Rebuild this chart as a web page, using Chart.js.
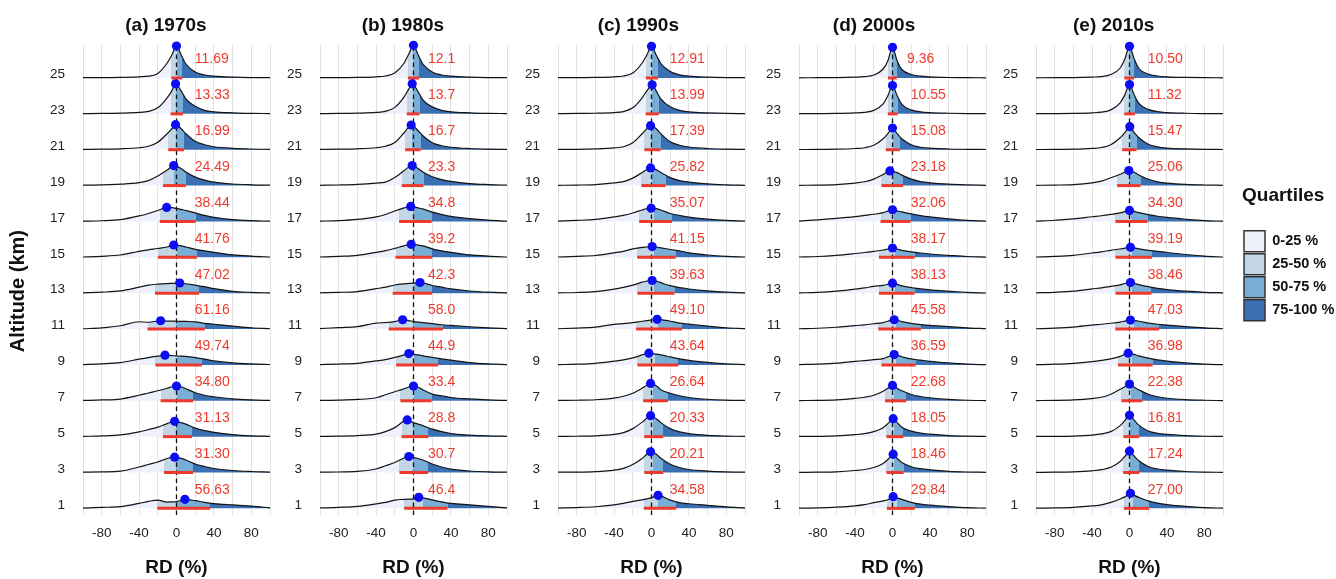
<!DOCTYPE html>
<html>
<head>
<meta charset="utf-8">
<title>RD ridgelines by decade</title>
<script src="https://cdn.jsdelivr.net/npm/chart.js@4.4.1/dist/chart.umd.min.js"></script>
<style>
  html, body { margin: 0; padding: 0; background: #fff; }
  #stage { position: relative; width: 1336px; height: 579px; overflow: hidden; }
  #stage canvas { position: absolute; top: 0; }
</style>
</head>
<body>
<div id="stage"></div>
<script>
/* === RD ridgelines, one panel per decade === */

// ── Shared axes ──
const altitudes = [25, 23, 21, 19, 17, 15, 13, 11, 9, 7, 5, 3, 1];
const rdGrid = [-100, -80, -60, -40, -30, -20, -10, -5, 0, 5, 10, 20, 30, 40, 60, 80, 100];
const gridLinesX = [-100, -80, -60, -40, -20, 0, 20, 40, 60, 80, 100];
const tickLabelsX = [-80, -40, 0, 40, 80];
const quartileLabels = ['0-25 %', '25-50 %', '50-75 %', '75-100 %'];

// ── 1970s ── density heights on rdGrid, mode [rd, height], quartiles [q1, median, q3], IQR text
const dens1970s = [
  [0.3,0.4,0.6,1.2,1.8,4.5,15,23,32,23,14,6,3,1.8,0.8,0.4,0.3],
  [0.3,0.4,0.7,1.4,2.5,6,16,23,30,23,15,7.5,3.5,2,1,0.5,0.3],
  [0.3,0.5,0.9,2,3.5,7.5,16,21,25,21,16,8.5,5,3,1.4,0.7,0.4],
  [0.4,0.7,1.4,3,5,9.5,15.5,19,19,17,13.5,8.5,5.5,3.5,1.6,0.8,0.4],
  [0.3,0.7,1.8,5.5,8,11,13.8,13.8,13,12,11,8.5,6,4,1.8,0.8,0.3],
  [0.3,1,2.3,6,7.5,8.8,10.3,12,12,11.5,10.3,8,6.5,5,2.5,1.2,0.3],
  [0.3,1,2.3,6,8,9,9.6,9.8,10,10.2,9.4,8,6.5,4.5,1.8,0.8,0.3],
  [0.3,1.2,3.3,7.3,6.8,8,8,8,7.8,7.7,7.6,7.2,5.7,4.8,3,1.3,0.3],
  [0.3,1,2.3,5.7,7.3,8.7,9.5,9.3,9,8.8,8.5,7.3,5.8,4,2,1,0.4],
  [0.3,0.8,1.7,5.5,7.8,10,12.5,14,14.7,14,12,8,5.5,4,1.8,0.8,0.3],
  [0.3,0.7,1.7,4.8,7,9.5,13,14.8,15,14,12.5,8.5,6,4.3,2,0.8,0.3],
  [0.3,0.6,1.3,5.5,8,10.5,14,15,15,14.2,12.5,8.5,6,4,2,1,0.4],
  [0.3,1,1.7,5,7,8.3,6.3,6.5,6.8,8,8.8,7.7,6,4.8,3.5,2.3,0.5]
];
const mode1970s = [[0,32],[-1,30],[-1,25],[-3,20],[-10.5,14],[-3,12.3],[3.5,10.2],[-17,8.3],[-12.3,9.7],[0,14.7],[-2,15.3],[-2,15.3],[9,9]];
const quart1970s = [[-5.5,0.5,6.2],[-6.3,0,7.0],[-8.8,-0.5,8.2],[-14.5,-3,10],[-18,0,20.4],[-20,0.7,21.8],[-23,0,24],[-31,0,30.2],[-22.5,0.7,27.2],[-17,0.5,17.8],[-14.5,0,16.6],[-13.5,0,17.8],[-20.5,0.7,36.1]];
const iqr1970s = ['11.69','13.33','16.99','24.49','38.44','41.76','47.02','61.16','49.74','34.80','31.13','31.30','56.63'];

// ── 1980s ──
const dens1980s = [
  [0.3,0.4,0.6,1.2,2,5,15,24,32.7,23,14,6,3,1.8,0.8,0.4,0.3],
  [0.3,0.4,0.7,1.4,2.5,6.5,17,25,29,22,14,7,3.5,2,1,0.5,0.3],
  [0.3,0.5,0.9,2,3.5,7.3,17,23,23.5,19,14,7,4,2.5,1.2,0.6,0.3],
  [0.3,0.6,1.2,2.5,3.5,8,15,18.5,19.5,17,13.5,8.8,6,4.2,2,1,0.4],
  [0.3,0.8,2,4.5,7,10.5,13.5,14.8,14.5,13.5,12.5,9.3,7,5,2.8,1.3,0.3],
  [0.3,1,2,5,6.7,9,11.5,12.8,12.8,12.3,11.5,8.5,6.5,5,2.5,1.2,0.3],
  [0.3,0.8,1.6,4.5,6,8.2,9.4,9.8,10,10.5,10.5,7.7,6,4.3,2.2,1,0.3],
  [0.4,1.5,2.5,6,6.5,7.5,9,8.5,7.5,7,6.5,5.5,4.3,3.6,2.3,1.2,0.4],
  [0.3,0.8,1.6,4,5.3,7.5,10,11,10.5,10,9,7.5,6,4.7,2.3,1,0.3],
  [0.3,0.6,1.3,3,6,9,12,13.8,14.7,13.5,11,6.7,5,3.3,1.8,0.8,0.3],
  [0.3,0.5,1,2.5,5,9,14.5,16.5,14,12.5,11,7.5,5,3,1.5,0.7,0.3],
  [0.3,0.5,1.2,3.5,6.7,10,14.5,16,15,14,12.5,8.5,5.5,3.3,1.5,0.7,0.3],
  [0.4,1,2,4.5,6,8.3,9,9.2,9.3,10.8,10.5,8.5,6.5,5,3.5,2,0.5]
];
const mode1980s = [[0,32.7],[-1.4,30],[-2.5,24.7],[-1.4,20],[-3,15],[-2.5,13],[7,10.7],[-11.6,9.3],[-5,11.3],[0,14.7],[-6.7,16.7],[-5,16],[5.6,11]];
const quart1980s = [[-6,-0.7,6.1],[-7.2,-1,6.5],[-9,-1.5,7.7],[-12.6,-1,10.7],[-15.4,0,19.4],[-19.2,0,20],[-22.3,0.5,20],[-26.5,0,31.5],[-18.5,1,26.4],[-14,0.5,19.4],[-12.8,0,16],[-15,-0.5,15.7],[-10,10,36.4]];
const iqr1980s = ['12.1','13.7','16.7','23.3','34.8','39.2','42.3','58.0','44.9','33.4','28.8','30.7','46.4'];

// ── 1990s ──
const dens1990s = [
  [0.3,0.4,0.6,1.2,2,5,15,23,31.7,23,14.5,6.5,3.2,1.8,0.8,0.4,0.3],
  [0.3,0.4,0.6,1.3,2.3,6,16,23,28,23,15,7,3.5,2,0.9,0.4,0.3],
  [0.3,0.4,0.8,1.8,3,7,16,21,24,21,16,8,4.5,2.7,1.2,0.6,0.3],
  [0.3,0.5,1,2.7,4,7.5,13,16,17.5,16,13,8,5,3.5,1.7,0.8,0.3],
  [0.3,1,2,4.5,6,8.5,11.5,12.8,13.3,12.8,11.5,8,6,4.3,2.3,1,0.3],
  [0.3,1,1.8,4.5,6,8.5,10,10.3,10.6,10.3,9.5,7.8,6.5,4.5,2.3,1,0.3],
  [0.3,0.7,1.6,4,5.8,8,11,12.2,12.6,12,10.5,7.5,5.5,4.2,2.3,1,0.3],
  [0.3,1,2,4.7,5.5,6.5,7.8,8.4,9,9.5,9.5,7.8,6,5,3,1.3,0.4],
  [0.3,0.7,1.6,3.7,5,7,10,11.3,11.5,10.8,10,8,6,4.5,2.5,1,0.3],
  [0.3,0.5,1,2.7,4.5,7.5,12.5,15.5,17.2,15,11,7.5,5,3.3,1.5,0.7,0.3],
  [0.3,0.4,0.8,2.2,4,8,14.5,18.5,21,18,14,8,4.7,3,1.3,0.6,0.3],
  [0.3,0.4,0.9,2.4,4.2,8,14,18.3,20.5,18.2,14.2,8.2,5,3,1.4,0.6,0.3],
  [0.3,0.8,1.6,3.5,5,7,8.5,9.5,10.7,12.5,12.5,8.3,5.7,4.6,3,1.5,0.4]
];
const mode1990s = [[0,31.7],[0.7,29],[-1,24],[-1,17.7],[-0.4,13.3],[0.7,10.7],[0.7,12.7],[6,9.7],[-2.8,11.7],[-1,17.3],[-1,21],[-1,20.7],[7,13]];
const quart1990s = [[-6,0.5,6.9],[-6.2,0.5,7.8],[-7.6,0,9.8],[-10.8,0.5,15],[-13.2,3,21.9],[-15.3,3,25.9],[-15,3,24.6],[-16.5,6.7,32.6],[-15,4,28.6],[-9,2,17.6],[-7.8,1.5,12.5],[-7.7,1.5,12.5],[-8.2,7,26.4]];
const iqr1990s = ['12.91','13.99','17.39','25.82','35.07','41.15','39.63','49.10','43.64','26.64','20.33','20.21','34.58'];

// ── 2000s ──
const dens2000s = [
  [0.2,0.3,0.4,0.8,1.3,3,9,17,30.7,17,8.5,3.5,1.8,1.1,0.5,0.3,0.2],
  [0.2,0.3,0.4,0.9,1.5,3.5,10,18,28.3,18,9.5,4,2,1.2,0.6,0.3,0.2],
  [0.2,0.3,0.5,1.2,2,4.5,11,16,21.7,16,11,5,2.5,1.5,0.7,0.4,0.2],
  [0.3,0.5,1,2.5,3.8,6.5,11,14,14.5,13,10.5,6.5,4,2.8,1.4,0.7,0.3],
  [0.4,1.6,3,4.8,6,7.2,8.8,10.3,11.7,10.6,9.5,7.5,5.8,4.5,2.5,1,0.3],
  [0.3,0.8,2,3.8,4.8,6,7.3,8.3,9.3,8.3,7,5.5,4.3,3.3,2,0.8,0.2],
  [0.3,0.8,2,4,5.3,6.8,7.8,8.8,10,8.8,7.3,5.5,4.3,3.3,2,0.8,0.2],
  [0.3,0.8,1.8,3.5,4.2,5.3,6.5,7.8,9,9,7.5,5.6,4.5,3.6,2.5,1.2,0.3],
  [0.3,0.8,1.7,3.5,4.3,5.2,6.3,8,9.8,9.5,8.2,6,4.8,3.6,2,0.8,0.2],
  [0.2,0.4,0.9,2.4,3.5,5.5,9.5,12.5,15.3,12.5,10,6.3,4.3,3,1.3,0.5,0.2],
  [0.2,0.3,0.7,2,3,5,9,13,17.5,14,9.5,5.5,3.5,2.5,1.1,0.5,0.2],
  [0.2,0.3,0.7,2,3,5,9,13,17.8,14,10,5.8,3.8,2.7,1.2,0.5,0.2],
  [0.2,0.5,1.2,2.5,3.7,5.7,7.5,8.6,11.5,10.5,9,6,4.2,3.2,1.8,0.7,0.2]
];
const mode2000s = [[0,30.7],[0,28.3],[0,21.7],[-2.8,14.7],[0,11.7],[0,9.3],[0,10],[1.8,9.3],[1.8,10.3],[0,15.3],[0.7,18],[0.7,18.3],[0.7,11.7]];
const quart2000s = [[-4.8,0,4.56],[-5,0,5.55],[-7.2,0.5,7.88],[-11.8,0.5,11.38],[-12.8,1.5,19.26],[-14.5,2.5,23.67],[-14.5,2.5,23.63],[-15.2,4,30.38],[-11.8,4,24.79],[-8,2,14.68],[-6.5,1.5,11.55],[-6.5,1.5,11.96],[-6,5,23.84]];
const iqr2000s = ['9.36','10.55','15.08','23.18','32.06','38.17','38.13','45.58','36.59','22.68','18.05','18.46','29.84'];

// ── 2010s ──
const dens2010s = [
  [0.2,0.3,0.4,0.9,1.4,3.5,10,19,31.7,19,9.5,4,2,1.2,0.6,0.3,0.2],
  [0.2,0.3,0.5,1,1.7,4,11,19,29.3,19,10.5,4.5,2.2,1.3,0.6,0.3,0.2],
  [0.2,0.3,0.5,1.3,2.2,5,12,17,23,17,12,5.5,2.8,1.6,0.8,0.4,0.2],
  [0.3,0.5,1,2.8,4.5,7.8,11.3,13.5,15,13.3,10.5,6.3,3.8,2.5,1.2,0.6,0.3],
  [0.3,1.2,2.5,4.7,5.7,7,8.5,9.8,11,10,8.8,6.8,5.2,4,2.2,0.8,0.3],
  [0.3,0.9,2,4.3,5.5,7,8.3,9.2,9.8,9.5,8.5,7,6,4.8,2.8,1.2,0.3],
  [0.3,0.9,2,4.3,5.3,6.8,8.3,9.7,10.4,9.8,8.6,6.5,4.8,3.6,2,0.9,0.3],
  [0.3,0.9,2,4,4.8,5.8,7,8,8.6,8.5,7.8,6,4.8,4,2.5,1.2,0.3],
  [0.2,0.7,1.6,3.3,4.5,6,8.5,10.5,11.3,10.5,9,6.8,5,3.8,2,0.8,0.2],
  [0.2,0.4,0.9,2.2,3.5,6.5,11.5,14,16.7,13.5,11,6.5,4,2.5,1.1,0.5,0.2],
  [0.2,0.3,0.6,1.6,2.7,5,11,16,21.3,16.5,11.5,5.7,3.3,2.2,1,0.4,0.2],
  [0.2,0.3,0.6,1.7,2.8,5.2,11,16,21.3,16.5,11.8,6,3.5,2.3,1,0.4,0.2],
  [0.2,0.4,1,2.4,3.5,6,9.3,11.5,14.5,13,11,7.5,5.2,3.8,2,0.8,0.2]
];
const mode2010s = [[0,31.7],[0,29.3],[0.3,23],[-0.7,15],[0,11],[1,10],[1,10.7],[1,9],[-1.4,11.7],[0,16.7],[0,21.3],[0,21.3],[1,15]];
const quart2010s = [[-5.5,-0.5,5],[-5.6,0,5.72],[-7.8,0.5,7.67],[-13.2,0,11.86],[-15,2,19.3],[-15,3,24.19],[-15,3,23.46],[-15.2,5,31.83],[-12.3,3,24.68],[-8.6,1.5,13.78],[-6.5,1,10.31],[-6.7,1,10.54],[-6,4,21]];
const iqr2010s = ['10.50','11.32','15.47','25.06','34.30','39.19','38.46','47.03','36.98','22.38','16.81','17.24','27.00'];

const PANELS = [
  { title: '(a) 1970s', dens: dens1970s, mode: mode1970s, quart: quart1970s, iqr: iqr1970s },
  { title: '(b) 1980s', dens: dens1980s, mode: mode1980s, quart: quart1980s, iqr: iqr1980s },
  { title: '(c) 1990s', dens: dens1990s, mode: mode1990s, quart: quart1990s, iqr: iqr1990s },
  { title: '(d) 2000s', dens: dens2000s, mode: mode2000s, quart: quart2000s, iqr: iqr2000s },
  { title: '(e) 2010s', dens: dens2010s, mode: mode2010s, quart: quart2010s, iqr: iqr2010s },
];

// ── Style / layout ──
const FILL = ['#eef1fb', '#c2d6e6', '#78aed6', '#3a6fb3'];
const LINE = '#141414', RED = '#ee3a2d', DOT = '#0d0df2';
const PLOT_LEFT = [83, 320, 558, 799, 1036];
const TITLE_NUDGE = [4, 4, 5, 7, 6];   // trailing nbsp: titles sit centred over labels + panel
const PLOT_W = 187, H = 579;
const TICK_PAD = 10;         // chart.js also reserves this on the right of the x axis
const Y_MIN = 0.63, Y_MAX = 26.84;
const PX_PER_UNIT = 17.93;   // density height units per altitude step
const FONT = '"Liberation Sans", Arial, Helvetica, sans-serif';

Chart.defaults.font.family = FONT;
Chart.defaults.color = '#222';

const stage = document.getElementById('stage');

function addCanvas(left, width) {
    const c = document.createElement('canvas');
    c.width = width; c.height = H;
    c.style.left = left + 'px';
    c.style.width = width + 'px'; c.style.height = H + 'px';
    stage.appendChild(c);
    return c;
}

// hard-stop gradient: one colour per quartile band, placed through the x scale
function quartileFill(q) {
    return (ctx) => {
        const chart = ctx.chart, xs = chart.scales.x;
        if (!chart.chartArea || !xs) return FILL[0];
        const w = xs.right - xs.left;
        const t = q.map(v => Math.min(1, Math.max(0, (xs.getPixelForValue(v) - xs.left) / w)));
        const g = chart.ctx.createLinearGradient(xs.left, 0, xs.right, 0);
        g.addColorStop(0, FILL[0]); g.addColorStop(t[0], FILL[0]);
        g.addColorStop(t[0], FILL[1]); g.addColorStop(t[1], FILL[1]);
        g.addColorStop(t[1], FILL[2]); g.addColorStop(t[2], FILL[2]);
        g.addColorStop(t[2], FILL[3]); g.addColorStop(1, FILL[3]);
        return g;
    };
}

function ridgePoints(h, m, alt) {
    const pts = rdGrid.map((x, j) => ({ x, y: alt + h[j] / PX_PER_UNIT }))
        .filter(p => Math.abs(p.x - m[0]) >= 3.5);
    pts.push({ x: m[0], y: alt + m[1] / PX_PER_UNIT });
    return pts.sort((a, b) => a.x - b.x);
}

// IQR numbers in red, written next to each ridge
const iqrLabels = {
    id: 'iqrLabels',
    afterDatasetsDraw(chart, args, opts) {
        const { ctx, scales: { x, y } } = chart;
        ctx.save();
        ctx.font = '14px ' + FONT;
        ctx.fillStyle = RED;
        ctx.textAlign = 'left';
        ctx.textBaseline = 'middle';
        opts.labels.forEach((s, i) => {
            const at = s.length >= 5 ? 19.5 : 15.5;
            ctx.fillText(s, x.getPixelForValue(at), y.getPixelForValue(altitudes[i] + 1.03));
        });
        ctx.restore();
    }
};

function makePanel(p, i) {
    const axisW = i === 0 ? PLOT_LEFT[0] : 45;
    const canvas = addCanvas(PLOT_LEFT[i] - axisW, axisW + PLOT_W + TICK_PAD);

    const datasets = [];
    datasets.push({
        data: p.mode.map((m, k) => ({ x: m[0], y: altitudes[k] + m[1] / PX_PER_UNIT })),
        showLine: false, pointRadius: 4.6, pointHoverRadius: 4.6,
        pointBackgroundColor: DOT, pointBorderWidth: 0, clip: false,
    });
    p.quart.forEach((q, k) => datasets.push({
        data: [{ x: q[0], y: altitudes[k] }, { x: q[2], y: altitudes[k] }],
        borderColor: RED, borderWidth: 3, borderCapStyle: 'butt', pointRadius: 0, clip: false,
    }));
    datasets.push({
        data: [{ x: 0, y: Y_MIN }, { x: 0, y: Y_MAX }],
        borderColor: '#111', borderWidth: 1.3, borderDash: [4.5, 3.5], pointRadius: 0,
    });
    p.dens.forEach((h, k) => datasets.push({
        data: ridgePoints(h, p.mode[k], altitudes[k]),
        borderColor: LINE, borderWidth: 1.2, pointRadius: 0,
        cubicInterpolationMode: 'monotone',
        fill: { value: altitudes[k] }, backgroundColor: quartileFill(p.quart[k]), clip: false,
    }));

    new Chart(canvas, {
        type: 'line',
        data: { datasets },
        options: {
            responsive: false, animation: false, events: [],
            layout: { padding: 0 },
            scales: {
                x: {
                    type: 'linear', position: 'bottom', min: -100, max: 100,
                    afterBuildTicks: s => { s.ticks = gridLinesX.map(v => ({ value: v })); },
                    afterFit: s => { s.height = H - 515; },
                    ticks: { autoSkip: false, maxRotation: 0, padding: TICK_PAD, color: '#222', font: { size: 13.5 },
                        callback: v => tickLabelsX.includes(v) ? String(v) : '' },
                    grid: { color: '#e2e2e2', lineWidth: 1, drawTicks: false },
                    border: { display: false },
                    title: { display: true, text: 'RD (%)', color: '#111', font: { size: 19, weight: 'bold' }, padding: { top: 0, bottom: 0 } },
                },
                top: {
                    type: 'linear', position: 'top', display: true,
                    afterFit: s => { s.height = 45; },
                    ticks: { display: false },
                    grid: { display: false, drawTicks: false },
                    border: { display: false },
                    title: { display: true, text: p.title + '\u00a0'.repeat(TITLE_NUDGE[i]), color: '#111',
                        font: { size: 19, weight: 'bold' }, padding: { top: 14, bottom: 0 } },
                },
                y: {
                    type: 'linear', min: Y_MIN, max: Y_MAX,
                    afterBuildTicks: s => { s.ticks = altitudes.map(v => ({ value: v })); },
                    afterFit: s => { s.width = axisW; },
                    ticks: { padding: 18, labelOffset: -3.5, color: '#222', font: { size: 13.5 } },
                    grid: { display: false, drawTicks: false },
                    border: { display: false },
                    // trailing no-break spaces nudge the rotated title a little lower
                    title: i === 0
                        ? { display: true, text: 'Altitude (km)\u00a0\u00a0\u00a0\u00a0', color: '#111', font: { size: 20, weight: 'bold' }, padding: { top: 6, bottom: 0 } }
                        : { display: false },
                },
            },
            plugins: {
                legend: { display: false },
                tooltip: { enabled: false },
                iqrLabels: { labels: p.iqr },
            },
        },
        plugins: [iqrLabels],
    });
}

PANELS.forEach(makePanel);

// ── Legend ──
new Chart(addCanvas(1242, 240), {
    type: 'line',
    data: { datasets: [] },
    options: {
        responsive: false, animation: false, events: [],
        scales: { x: { display: false }, y: { display: false } },
        plugins: {
            tooltip: { enabled: false },
            legend: {
                display: true, position: 'left', align: 'start', maxWidth: 120,
                title: { display: true, text: 'Quartiles', position: 'start', color: '#111',
                    font: { size: 19, weight: 'bold' }, padding: { top: 186, bottom: 20 } },
                labels: {
                    boxWidth: 21, boxHeight: 21, padding: 2, color: '#111',
                    font: { size: 14.5, weight: 'bold' },
                    generateLabels: () => quartileLabels.map((t, k) => ({
                        text: t, fillStyle: FILL[k], strokeStyle: '#333', lineWidth: 1.5, hidden: false, datasetIndex: k,
                    })),
                },
            },
        },
    },
});
</script>
</body>
</html>
